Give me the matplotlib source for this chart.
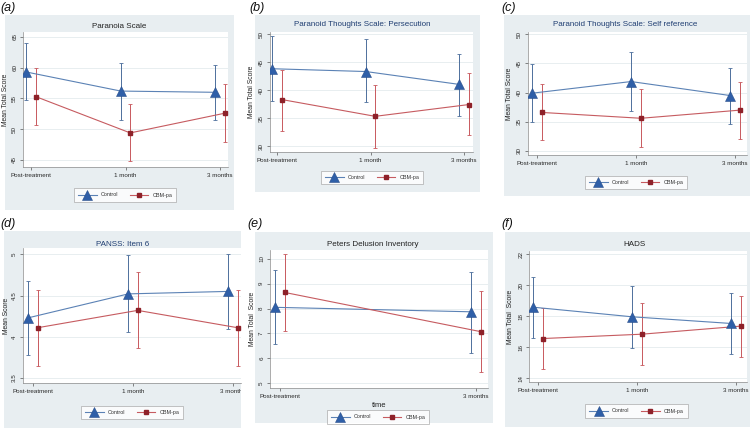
import matplotlib
matplotlib.use("Agg")
import matplotlib.pyplot as plt
from matplotlib.lines import Line2D
from matplotlib.patches import Rectangle
from matplotlib.transforms import Bbox, TransformedBbox

W, H = 751, 433

times3 = ["Post-treatment", "1 month", "3 months"]
times2 = ["Post-treatment", "3 months"]
groups = ["Control", "CBM-pa"]

# (a) Paranoia Scale
a_ctrl = [59.3, 56.2, 56.0]
a_ctrl_lo = [54.8, 51.5, 51.5]
a_ctrl_hi = [64.0, 60.7, 60.5]
a_cbm = [55.3, 49.4, 52.6]
a_cbm_lo = [50.7, 44.8, 48.0]
a_cbm_hi = [60.0, 54.1, 57.3]

# (b) Paranoid Thoughts Scale: Persecution
b_ctrl = [43.8, 43.3, 41.0]
b_ctrl_lo = [38.1, 37.9, 35.3]
b_ctrl_hi = [49.6, 49.1, 46.5]
b_cbm = [38.3, 35.3, 37.4]
b_cbm_lo = [32.7, 29.6, 31.9]
b_cbm_hi = [43.6, 40.9, 43.0]

# (c) Paranoid Thoughts Scale: Self reference
c_ctrl = [39.9, 41.9, 39.5]
c_ctrl_lo = [35.0, 36.9, 34.6]
c_ctrl_hi = [44.9, 46.9, 44.3]
c_cbm = [36.6, 35.6, 37.0]
c_cbm_lo = [31.8, 30.7, 32.1]
c_cbm_hi = [41.5, 40.6, 41.9]

# (d) PANSS: Item 6
d_ctrl = [4.23, 4.52, 4.55]
d_ctrl_lo = [3.78, 4.06, 4.09]
d_ctrl_hi = [4.68, 4.99, 5.00]
d_cbm = [4.11, 4.32, 4.11]
d_cbm_lo = [3.65, 3.86, 3.65]
d_cbm_hi = [4.57, 4.79, 4.57]

# (e) Peters Delusion Inventory
e_ctrl = [8.05, 7.87]
e_ctrl_lo = [6.57, 6.23]
e_ctrl_hi = [9.55, 9.49]
e_cbm = [8.65, 7.07]
e_cbm_lo = [7.10, 5.43]
e_cbm_hi = [10.19, 8.70]

# (f) HADS
f_ctrl = [18.58, 17.96, 17.53]
f_ctrl_lo = [16.62, 15.97, 15.55]
f_ctrl_hi = [20.54, 19.94, 19.50]
f_cbm = [16.56, 16.84, 17.36]
f_cbm_lo = [14.62, 14.88, 15.40]
f_cbm_hi = [18.50, 18.82, 19.32]

BG = "#E8EEF1"
GRID = "#E4EBEE"
CTRL_LINE = "#5b82b5"
CTRL_MARK = "#2f5fa8"
CTRL_ERR = "#4d6f9c"
CBM_LINE = "#c65b60"
CBM_MARK = "#8e2129"
CBM_ERR = "#c8585d"
NAVY = "#1f3e72"

plt.rcParams["font.family"] = ["Liberation Sans", "DejaVu Sans"]

fig = plt.figure(figsize=(W / 100, H / 100), dpi=100)


def fbox(x0, y0, x1, y1):
    return [x0 / W, 1 - y1 / H, (x1 - x0) / W, (y1 - y0) / H]


def fx(x):
    return x / W


def fy(y):
    return 1 - y / H


def panel(letter, lab_xy, title, title_xy, tcolor, ylabel, ylab_x, labels,
          ctrl, cbm, yticks, ylim, xlim, off, bg, plot, leg_xy,
          xlabel=None, xlabel_y=None, clip_right=None):
    x0, y0, x1, y1 = bg
    fig.patches.append(Rectangle((fx(x0), fy(y1)), (x1 - x0) / W, (y1 - y0) / H,
                                 transform=fig.transFigure, facecolor=BG,
                                 edgecolor="none", zorder=-5))
    fig.text(fx(lab_xy[0]), fy(lab_xy[1]), letter, fontsize=9, style="italic",
             ha="left", va="center", color="#111111")
    fig.text(fx(title_xy[0]), fy(title_xy[1]), title, fontsize=5.8,
             ha="center", va="center", color=tcolor)

    ax = fig.add_axes(fbox(*plot))
    ax.set_facecolor("white")
    n = len(labels)
    xs = list(range(n))
    (c, c_lo, c_hi), (m, m_lo, m_hi) = ctrl, cbm
    xc = [x - off for x in xs]
    xm = [x + off for x in xs]

    ax.errorbar(xc, c, yerr=[[v - l for v, l in zip(c, c_lo)], [h - v for v, h in zip(c, c_hi)]],
                fmt="none", ecolor=CTRL_ERR, elinewidth=0.7, capsize=1.3, capthick=0.6, zorder=2)
    ax.errorbar(xm, m, yerr=[[v - l for v, l in zip(m, m_lo)], [h - v for v, h in zip(m, m_hi)]],
                fmt="none", ecolor=CBM_ERR, elinewidth=0.7, capsize=1.3, capthick=0.6, zorder=2)
    ax.plot(xc, c, color=CTRL_LINE, lw=0.8, zorder=3)
    ax.plot(xm, m, color=CBM_LINE, lw=0.8, zorder=3)
    ax.plot(xc, c, ls="none", marker="^", ms=6.5, color=CTRL_MARK,
            mec="#2a4f8a", mew=0.4, zorder=4)
    ax.plot(xm, m, ls="none", marker="s", ms=2.4, color=CBM_MARK, zorder=4)

    ax.set_xlim(*xlim)
    ax.set_ylim(*ylim)
    ax.set_xticks(xs)
    ax.set_xticklabels(labels)
    ax.set_yticks(yticks)
    ax.set_yticklabels([f"{t:g}" for t in yticks], rotation=90, va="center")
    ax.tick_params(axis="both", labelsize=4.5, length=2, width=0.5,
                   colors="#555555", labelcolor="#2a2a2a", pad=2.2)
    ax.grid(axis="y", color=GRID, lw=0.6)
    ax.set_axisbelow(True)
    for s in ["top", "right"]:
        ax.spines[s].set_visible(False)
    for s in ["left", "bottom"]:
        ax.spines[s].set_color("#8a8a8a")
        ax.spines[s].set_linewidth(0.5)

    ax.set_ylabel(ylabel, fontsize=4.9, color="#222222")
    ax.yaxis.set_label_coords(fx(ylab_x), (fy(plot[1]) + fy(plot[3])) / 2,
                              transform=fig.transFigure)
    if xlabel:
        ax.set_xlabel(xlabel, fontsize=5.5, color="#222222")
        ax.xaxis.set_label_coords(fx((plot[0] + plot[2]) / 2), fy(xlabel_y),
                                  transform=fig.transFigure)

    if clip_right is not None:
        cb = TransformedBbox(Bbox.from_extents(0, 0, fx(clip_right), 1), fig.transFigure)
        for lbl in ax.get_xticklabels():
            lbl.set_clip_box(cb)
            lbl.set_clip_on(True)

    handles = [
        Line2D([], [], color=CTRL_LINE, lw=0.8, marker="^", ms=6.5,
               mfc=CTRL_MARK, mec="#2a4f8a", mew=0.4),
        Line2D([], [], color=CBM_LINE, lw=0.8, marker="s", ms=2.4,
               mfc=CBM_MARK, mec=CBM_MARK),
    ]
    leg = ax.legend(handles, groups, loc="center", ncol=2,
                    bbox_to_anchor=(fx(leg_xy[0]), fy(leg_xy[1])),
                    bbox_transform=fig.transFigure, fontsize=3.9,
                    handlelength=3.5, handletextpad=0.7, columnspacing=2.1,
                    borderpad=0.8, borderaxespad=0, frameon=True, fancybox=False)
    leg.get_frame().set_edgecolor("#9a9a9a")
    leg.get_frame().set_linewidth(0.5)
    for t in leg.get_texts():
        t.set_color("#333333")
    return ax


panel("(a)", (0, 8), "Paranoia Scale", (119, 26), "#222222",
      "Mean Total Score", 9, times3,
      (a_ctrl, a_ctrl_lo, a_ctrl_hi), (a_cbm, a_cbm_lo, a_cbm_hi),
      [45, 50, 55, 60, 65], (43.86, 65.8), (-0.085, 2.085), 0.05,
      (5, 15, 234, 210), (23, 32, 228, 167), (125, 195))

panel("(b)", (249, 8), "Paranoid Thoughts Scale: Persecution", (362, 25), NAVY,
      "Mean Total Score", 255, times3,
      (b_ctrl, b_ctrl_lo, b_ctrl_hi), (b_cbm, b_cbm_lo, b_cbm_hi),
      [30, 35, 40, 45, 50], (28.93, 50.36), (-0.075, 2.096), 0.05,
      (255, 15, 480, 192), (270, 32, 473, 152), (372, 177.5))

panel("(c)", (501, 8), "Paranoid Thoughts Scale: Self reference", (625, 25), NAVY,
      "Mean Total Score", 513, times3,
      (c_ctrl, c_ctrl_lo, c_ctrl_hi), (c_cbm, c_cbm_lo, c_cbm_hi),
      [30, 35, 40, 45, 50], (29.3, 50.4), (-0.09, 2.12), 0.05,
      (504, 15, 750, 196), (528, 32, 747, 155), (636, 182.5))

panel("(d)", (0, 224), "PANSS: Item 6", (123, 244), NAVY,
      "Mean Score", 10, times3,
      (d_ctrl, d_ctrl_lo, d_ctrl_hi), (d_cbm, d_cbm_lo, d_cbm_hi),
      [3.5, 4, 4.5, 5], (3.44, 5.076), (-0.1, 2.08), 0.047,
      (4, 231, 241, 428), (23, 248, 241, 383), (132, 412.5), clip_right=241)

panel("(e)", (247, 224), "Peters Delusion Inventory", (373, 244), "#222222",
      "Mean Total  Score", 256, times2,
      (e_ctrl, e_ctrl_lo, e_ctrl_hi), (e_cbm, e_cbm_lo, e_cbm_hi),
      [5, 6, 7, 8, 9, 10], (4.8, 10.36), (-0.051, 1.061), 0.024,
      (255, 232, 493, 423), (270, 250, 488, 388), (378, 417),
      xlabel="time", xlabel_y=402)

panel("(f)", (501, 224), "HADS", (635, 244), "#222222",
      "Mean Total  Score", 514, times3,
      (f_ctrl, f_ctrl_lo, f_ctrl_hi), (f_cbm, f_cbm_lo, f_cbm_hi),
      [14, 16, 18, 20, 22], (13.76, 22.2), (-0.09, 2.11), 0.048,
      (505, 232, 750, 427), (529, 251, 747, 382), (636.5, 411))

fig.savefig("out.png", dpi=100)
